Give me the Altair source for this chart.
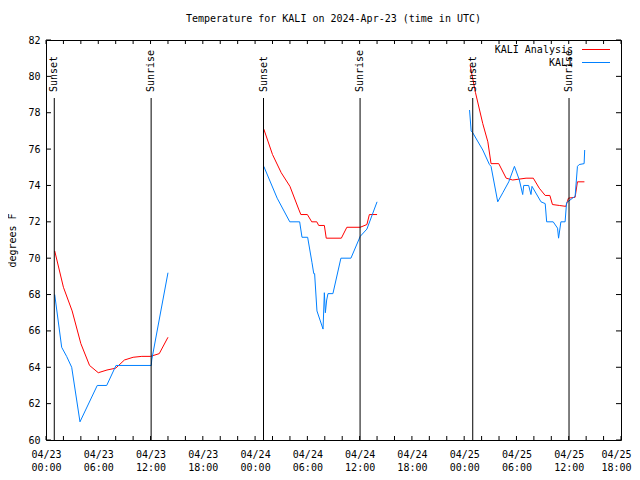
import altair as alt
import pandas as pd

FONT = "DejaVu Sans Mono"
RED = "#ff0000"
BLUE = "#0080ff"

# ---- KALI Analysis (red) : "MM-DD HH:MM", degrees F
ana_time = [
    "04-23 01:00", "04-23 02:00", "04-23 03:00", "04-23 04:00", "04-23 05:00",
    "04-23 06:00", "04-23 07:00", "04-23 08:00", "04-23 09:00", "04-23 10:00",
    "04-23 11:00", "04-23 12:00", "04-23 13:00", "04-23 14:00",
    "04-24 01:00", "04-24 02:00", "04-24 03:00", "04-24 04:00", "04-24 05:00",
    "04-24 05:15", "04-24 06:00", "04-24 06:30", "04-24 07:05", "04-24 07:18",
    "04-24 07:57", "04-24 08:10", "04-24 09:54", "04-24 10:32", "04-24 12:04",
    "04-24 12:50", "04-24 13:07", "04-24 14:00",
    "04-25 00:41", "04-25 01:18", "04-25 02:08", "04-25 02:43", "04-25 03:05",
    "04-25 03:58", "04-25 04:49", "04-25 05:34", "04-25 07:06", "04-25 07:56",
    "04-25 08:37", "04-25 09:18", "04-25 09:50", "04-25 10:08", "04-25 10:55",
    "04-25 11:40", "04-25 11:58", "04-25 12:44", "04-25 13:00", "04-25 13:48",
]
ana_temp = [
    70.4, 68.4, 67.1, 65.3, 64.1,
    63.7, 63.85, 63.95, 64.4, 64.55,
    64.6, 64.6, 64.75, 65.65,
    77.1, 75.7, 74.7, 73.95, 72.7,
    72.4, 72.4, 72.0, 72.0, 71.8,
    71.8, 71.1, 71.1, 71.7, 71.7,
    71.85, 72.4, 72.4,
    80.6, 79.1, 77.4, 76.4, 75.2,
    75.2, 74.4, 74.3, 74.4, 74.4,
    73.85, 73.45, 73.45, 72.95, 72.9,
    72.85, 73.3, 73.35, 74.2, 74.2,
]

# ---- KALI observations (blue)
obs_time = [
    "04-23 01:00", "04-23 01:48", "04-23 02:22", "04-23 02:57", "04-23 03:54",
    "04-23 05:53", "04-23 06:58", "04-23 08:02", "04-23 12:05", "04-23 12:08",
    "04-23 14:00",
    "04-24 01:00", "04-24 02:32", "04-24 03:59", "04-24 05:07", "04-24 05:23",
    "04-24 06:02", "04-24 06:32", "04-24 06:44", "04-24 06:50", "04-24 07:06",
    "04-24 07:48", "04-24 07:57", "04-24 08:04", "04-24 08:13", "04-24 08:22",
    "04-24 08:56", "04-24 09:51", "04-24 11:00", "04-24 12:04", "04-24 12:50",
    "04-24 14:00",
    "04-25 00:37", "04-25 00:48", "04-25 00:59", "04-25 02:08", "04-25 02:54",
    "04-25 03:05", "04-25 03:51", "04-25 04:26", "04-25 05:07", "04-25 05:46",
    "04-25 06:20", "04-25 06:43", "04-25 06:50", "04-25 07:24", "04-25 07:40",
    "04-25 07:47", "04-25 08:49", "04-25 09:18", "04-25 09:28", "04-25 10:13",
    "04-25 10:43", "04-25 10:50", "04-25 11:06", "04-25 11:35", "04-25 11:45",
    "04-25 12:26", "04-25 12:44", "04-25 13:00", "04-25 13:12", "04-25 13:46",
    "04-25 13:50",
]
obs_temp = [
    68.0, 65.1, 64.6, 64.0, 61.0,
    63.0, 63.0, 64.1, 64.1, 64.4,
    69.2,
    75.05, 73.3, 72.0, 72.0, 71.15,
    71.15, 69.75, 69.15, 69.15, 67.1,
    66.1, 68.1, 67.0, 67.7, 68.05,
    68.05, 70.0, 70.0, 71.2, 71.6,
    73.1,
    78.15, 77.0, 76.9, 75.95, 75.15,
    75.05, 73.1, 73.6, 74.2, 75.05,
    74.3, 73.5, 74.0, 74.0, 73.5,
    73.95, 73.1, 73.0, 72.0, 72.0,
    71.65, 71.1, 72.0, 72.0, 73.05,
    73.3, 73.4, 75.05, 75.15, 75.2,
    75.95,
]

# ---- sunrise / sunset markers
sun_time = ["04-23 00:57", "04-23 12:04", "04-24 00:58", "04-24 12:03",
            "04-25 00:59", "04-25 12:02"]
sun_label = ["Sunset", "Sunrise", "Sunset", "Sunrise", "Sunset", "Sunrise"]

series_names = ["KALI Analysis", "KALI"]
series_colors = [RED, BLUE]

x_start = "2024-04-23T00:00:00Z"
x_end = "2024-04-25T18:00:00Z"
y_ticks = list(range(60, 83, 2))


def iso(s):
    return "2024-" + s.replace(" ", "T") + ":00Z"


def ms(s):
    return int(pd.Timestamp(s).value // 10**6)


rows = []
for t, v in zip(ana_time, ana_temp):
    rows.append({"time": iso(t), "temp": v, "series": series_names[0], "seg": t[:5]})
for t, v in zip(obs_time, obs_temp):
    rows.append({"time": iso(t), "temp": v, "series": series_names[1], "seg": t[:5]})
df = pd.DataFrame(rows)

sun_df = pd.DataFrame({"time": [iso(t) for t in sun_time], "label": sun_label})

label_vals = [ms(x) for x in pd.date_range(x_start, x_end, freq="6h")]
xtick_df = pd.DataFrame({"time": [t.strftime("%Y-%m-%dT%H:%M:%SZ")
                                  for t in pd.date_range(x_start, x_end, freq="2h")]})
ytick_df = pd.DataFrame({"temp": y_ticks})

W, H = 575, 400

xscale = alt.Scale(type="utc", domain=[ms(x_start), ms(x_end)])
yscale = alt.Scale(domain=[60, 82], nice=False, zero=False)

xaxis = alt.Axis(values=label_vals, title=None, grid=False, ticks=False,
                 domain=False, labelFont=FONT, labelFontSize=10,
                 labelColor="black", labelPadding=9, labelLineHeight=13,
                 labelFlush=False, labelOverlap=False, labelBound=False,
                 labelBaseline="top",
                 labelOffset={"condition": {"test": f"time(datum.value) == {label_vals[-1]}",
                                            "value": -5}, "value": 0},
                 labelExpr="[utcFormat(datum.value, '%m/%d'), utcFormat(datum.value, '%H:%M')]")
yaxis = alt.Axis(values=y_ticks, title="degrees F", grid=False, ticks=False,
                 domain=False, labelFont=FONT, labelFontSize=10,
                 labelColor="black", labelPadding=6, labelOverlap=False,
                 labelFlush=False, labelBound=False, titleFont=FONT,
                 titleFontSize=10, titleFontWeight="normal",
                 titleColor="black", titlePadding=10)

X = alt.X("time:T", scale=xscale, axis=xaxis)
Y = alt.Y("temp:Q", scale=yscale, axis=yaxis)

lines = alt.Chart(df).mark_line(strokeWidth=1).encode(
    x=X, y=Y,
    color=alt.Color("series:N", scale=alt.Scale(domain=series_names, range=series_colors),
                    legend=None),
    detail="seg:N",
)

tick_bottom = alt.Chart(xtick_df).mark_rule(color="black", strokeWidth=1).encode(
    x=X, y=alt.value(H), y2=alt.value(H - 4))
tick_top = alt.Chart(xtick_df).mark_rule(color="black", strokeWidth=1).encode(
    x=X, y=alt.value(0), y2=alt.value(4))
tick_left = alt.Chart(ytick_df).mark_rule(color="black", strokeWidth=1).encode(
    y=Y, x=alt.value(0), x2=alt.value(5))
tick_right = alt.Chart(ytick_df).mark_rule(color="black", strokeWidth=1).encode(
    y=Y, x=alt.value(W), x2=alt.value(W - 5))

sun_rules = alt.Chart(sun_df).mark_rule(color="black", strokeWidth=1).encode(
    x=X, y=alt.value(58), y2=alt.value(H))
sun_text = alt.Chart(sun_df).mark_text(
    angle=270, align="left", baseline="middle", font=FONT, fontSize=10, color="black"
).encode(x=X, y=alt.value(52), text="label:N")

legend_layers = []
for i, (name, col) in enumerate(zip(series_names, series_colors)):
    ld = pd.DataFrame({"label": [name]})
    yy = 9.5 + 13 * i
    legend_layers.append(
        alt.Chart(ld).mark_text(align="right", baseline="middle", font=FONT,
                                fontSize=10, color="black").encode(
            x=alt.value(527), y=alt.value(yy), text="label:N"))
    legend_layers.append(
        alt.Chart(ld).mark_rule(color=col, strokeWidth=1).encode(
            x=alt.value(536), x2=alt.value(564), y=alt.value(yy)))

chart = alt.layer(
    lines, tick_bottom, tick_top, tick_left, tick_right, sun_rules, sun_text,
    *legend_layers
).properties(
    width=W, height=H,
    title=alt.TitleParams("Temperature for KALI on 2024-Apr-23 (time in UTC)",
                          font=FONT, fontSize=10, fontWeight="normal",
                          color="black", anchor="middle", offset=11, frame="group"),
    autosize=alt.AutoSizeParams(type="none"),
    padding={"left": 38, "top": 32, "right": 11, "bottom": 32},
    background="white",
).configure_view(stroke="black", strokeWidth=1)

chart.save("out.html", embed_options={"renderer": "svg", "actions": False})
